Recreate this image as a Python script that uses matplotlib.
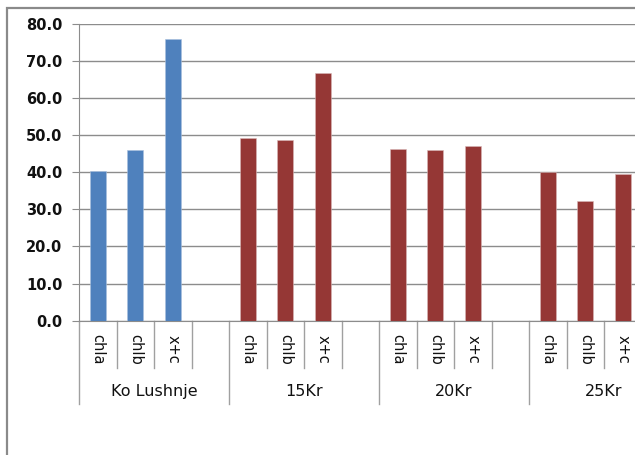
import numpy as np
import matplotlib.pyplot as plt
from matplotlib.patches import Rectangle

groups = ['Ko Lushnje', '15Kr', '20Kr', '25Kr']
pigments = ['chla', 'chlb', 'x+c']
ko_lushnje = [40.3, 45.9, 75.9]
kr15 = [49.3, 48.7, 66.7]
kr20 = [46.2, 45.9, 47.1]
kr25 = [40.0, 32.2, 39.4]
series = [ko_lushnje, kr15, kr20, kr25]
colors = ['#4F81BD', '#953735', '#953735', '#953735']
yticks = np.arange(0, 81, 10)

W, H = 635, 455
fig = plt.figure(figsize=(W / 100, H / 100), dpi=100)
fig.patch.set_facecolor('white')

# chart border (runs off the right and bottom edge)
fig.add_artist(Rectangle((7 / W, -0.1), 1.2, 1.1 - 8 / H, transform=fig.transFigure,
                         fill=False, edgecolor='#8a8a8a', linewidth=1.6))

ax = fig.add_axes([79 / W, (H - 320.6) / H, 600 / W, 296.8 / H])
slots = 4  # three pigments plus an empty slot per group
for g, vals in enumerate(series):
    x = g * slots + np.arange(len(vals)) + 0.5
    ax.bar(x, vals, width=0.42, color=colors[g], edgecolor='#d8b8b8' if g else '#a8c0dd',
           linewidth=0.4, zorder=3)

ax.set_xlim(0, slots * len(groups))
ax.set_ylim(0, 80)
ax.set_yticks(yticks)
ax.set_yticklabels([f'{v:.1f}' for v in yticks], fontsize=10.5, fontweight='bold',
                   family='DejaVu Sans', color='#111111')
ax.set_xticks([])
ax.grid(axis='y', color='#8c8c8c', linewidth=1, zorder=0)
for s in ['top', 'right']:
    ax.spines[s].set_visible(False)
ax.spines['left'].set_color('#8c8c8c')
ax.spines['bottom'].set_color('#8c8c8c')
ax.tick_params(axis='y', length=5, color='#8c8c8c', pad=7)

# two-level category axis
tr = ax.get_xaxis_transform()
for i in range(slots * len(groups) + 1):
    low = -0.281 if i % slots == 0 else -0.16
    ax.plot([i, i], [0, low], transform=tr, color='#a0a0a0', linewidth=1, clip_on=False)
for g, name in enumerate(groups):
    for j, p in enumerate(pigments):
        ax.text(g * slots + j + 0.5, -0.098, p, transform=tr, rotation=-90,
                ha='center', va='center', fontsize=10.5, family='DejaVu Sans', color='#111111')
    ax.text(g * slots + 2, -0.24, name, transform=tr, ha='center', va='center',
            fontsize=11.5, family='DejaVu Sans', color='#111111')

fig.savefig('out.png', dpi=100)
